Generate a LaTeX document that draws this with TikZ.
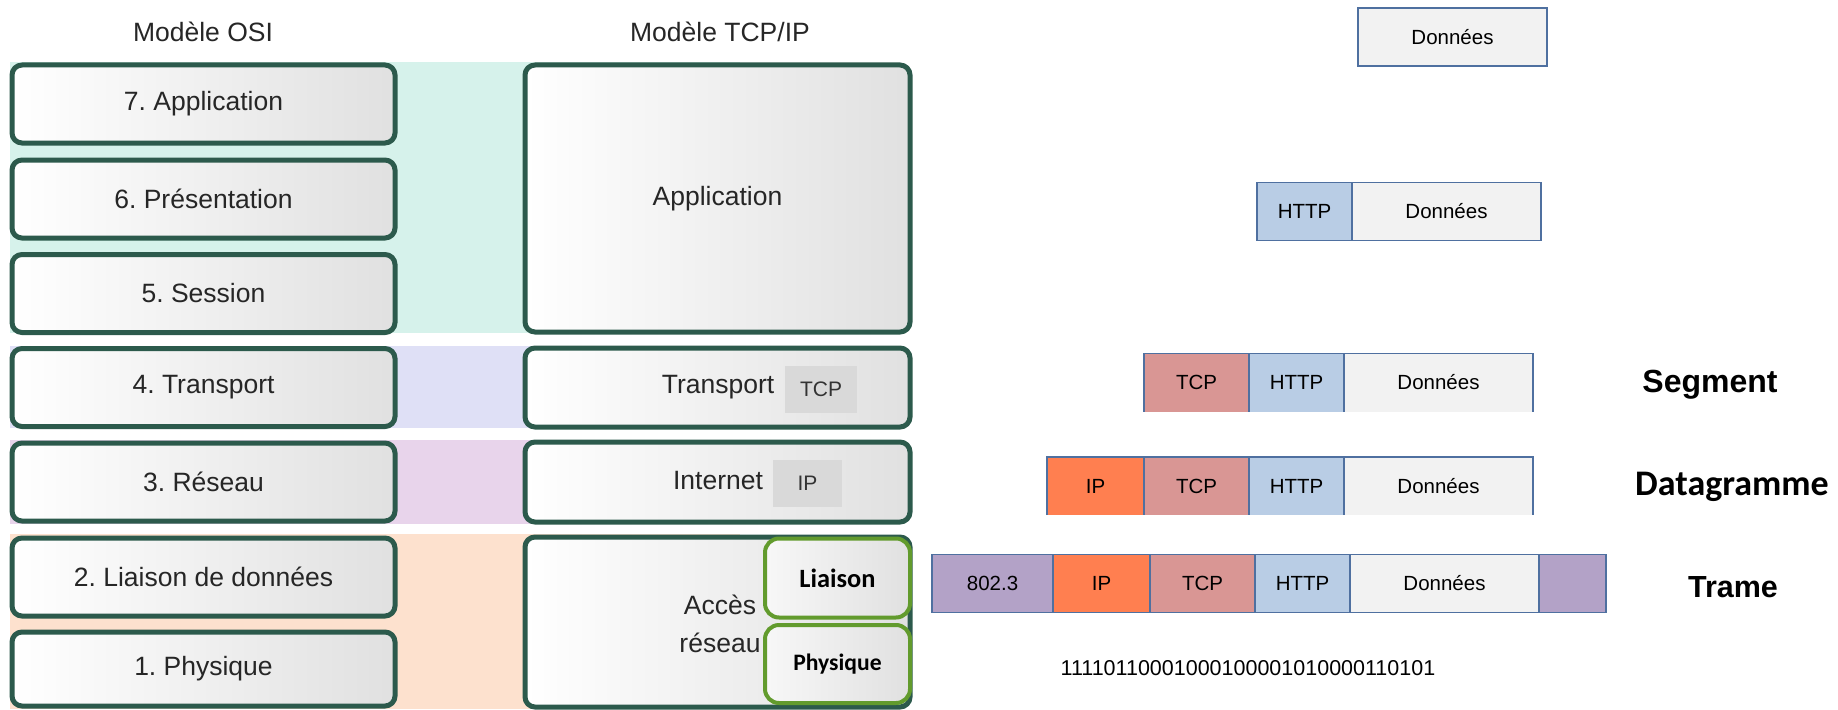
\documentclass[tikz,border=0pt]{standalone}
\usepackage{fontspec}
\setmainfont{Liberation Sans}
\newfontfamily\calibri{Carlito}
\usetikzlibrary{positioning}
\definecolor{layergreen}{RGB}{44,90,76}
\definecolor{subgreen}{RGB}{98,155,45}
\definecolor{tealband}{RGB}{214,242,235}
\definecolor{transband}{RGB}{223,224,246}
\definecolor{netband}{RGB}{232,212,235}
\definecolor{accband}{RGB}{253,225,206}
\definecolor{taggray}{RGB}{217,217,217}
\definecolor{cellblue}{RGB}{79,112,160}
\definecolor{datagray}{RGB}{242,242,242}
\definecolor{httpblue}{RGB}{185,205,229}
\definecolor{tcprose}{RGB}{217,150,148}
\definecolor{ipcoral}{RGB}{255,127,80}
\definecolor{ethpurple}{RGB}{179,162,199}

\tikzset{
    caption/.style={font=\fontsize{26.5}{30}\selectfont, text=black!85},
    layer/.style={caption, draw=layergreen, line width=5pt, rounded corners=10pt,
        left color=white, right color=black!12, minimum width=383pt,
        minimum height=78pt, inner sep=0pt, outer sep=0pt},
    tag/.style={fill=taggray, minimum width=72pt, minimum height=47pt,
        font=\fontsize{21}{24}\selectfont, text=black!80},
    sublayer/.style={draw=subgreen, line width=4pt, rounded corners=14pt,
        left color=black!3, right color=black!12, minimum width=145pt,
        minimum height=79pt},
    cell/.style={draw=cellblue, line width=1.6pt, minimum height=58pt,
        inner sep=0pt, outer sep=0pt, font=\fontsize{20.5}{24}\selectfont},
    open/.style={draw=none},
    rowline/.style={cellblue, line width=1.6pt},
    datacell/.style={cell, fill=datagray, minimum width=189pt},
    httpcell/.style={cell, fill=httpblue, minimum width=95pt},
    tcpcell/.style={cell, fill=tcprose, minimum width=105pt},
    ipcell/.style={cell, fill=ipcoral, minimum width=97pt},
    ethcell/.style={cell, fill=ethpurple, minimum width=121pt},
    fcscell/.style={cell, fill=ethpurple, minimum width=67pt},
    unitname/.style={font=\fontsize{32}{36}\selectfont\bfseries}
}

\begin{document}
\frenchspacing
\begin{tikzpicture}[x=1pt, y=-1pt]
    \useasboundingbox (0,0) rectangle (1838,709);

    % coloured bands behind the layers
    \fill[tealband] (10,62) rectangle (740,333);
    \fill[transband] (10,346) rectangle (740,428);
    \fill[netband] (10,440) rectangle (740,524);
    \fill[accband] (10,534) rectangle (740,709);

    % OSI model
    \node[caption] (osi) at (203,32) {Modèle OSI};
    \node[layer] (l7) at (203.5,104) {7. Application};
    \node[layer] (l6) at (203.5,199) {6. Présentation};
    \node[layer] (l5) at (203.5,293.5) {5. Session};
    \node[layer] (l4) at (203.5,387.5) {4. Transport};
    \node[layer] (l3) at (203.5,482) {3. Réseau};
    \node[layer] (l2) at (203.5,577) {2. Liaison de données};
    \node[layer, minimum height=74pt] (l1) at (203.5,669) {1. Physique};

    % TCP/IP model
    \node[caption] (tcpip) at (720,32) {Modèle TCP/IP};
    \node[layer, minimum width=385pt, minimum height=267pt] (app) at (717.5,198.5) {Application};
    \node[layer, minimum width=385pt, minimum height=79pt] (trans) at (717.5,387.5) {};
    \node[caption] (transtxt) at (718,387.5) {Transport};
    \node[tag] (tcptag) at (821,389.5) {TCP};
    \node[layer, minimum width=385pt, minimum height=80pt] (inet) at (717.5,482) {};
    \node[caption] (inettxt) at (718,481) {Internet};
    \node[tag, minimum width=69pt] (iptag) at (807.5,483.5) {IP};
    \node[layer, minimum width=385pt, minimum height=170pt] (acc) at (717.5,622) {};
    \node[caption, align=center, font=\fontsize{26.5}{38}\selectfont] (acctxt) at (720,624) {Accès\\réseau};
    \node[sublayer, font=\calibri\bfseries\fontsize{26.4}{30}\selectfont] (liaison) at (837.5,578) {Liaison};
    \node[sublayer, minimum height=78pt, font=\calibri\bfseries\fontsize{23.6}{28}\selectfont] (phys) at (837.5,664) {Physique};

    % encapsulation
    \node[datacell, anchor=west] (d0) at (1358,37) {Données};

    \node[httpcell, anchor=west] (h1) at (1257,211.5) {HTTP};
    \node[datacell, right=0pt of h1] (d1) {Données};

    \node[tcpcell, open, anchor=west] (t2) at (1144,382.5) {TCP};
    \node[httpcell, open, right=0pt of t2] (h2) {HTTP};
    \node[datacell, open, right=0pt of h2] (d2) {Données};
    \draw[rowline] (t2.south west) |- (d2.north east) -- (d2.south east);
    \draw[rowline] (h2.north west) -- (h2.south west) (d2.north west) -- (d2.south west);

    \node[ipcell, open, anchor=west] (i3) at (1047,486) {IP};
    \node[tcpcell, open, right=0pt of i3] (t3) {TCP};
    \node[httpcell, open, right=0pt of t3] (h3) {HTTP};
    \node[datacell, open, right=0pt of h3] (d3) {Données};
    \draw[rowline] (i3.south west) |- (d3.north east) -- (d3.south east);
    \draw[rowline] (t3.north west) -- (t3.south west) (h3.north west) -- (h3.south west)
        (d3.north west) -- (d3.south west);

    \node[ethcell, anchor=west] (e4) at (932,583.5) {802.3};
    \node[ipcell, right=0pt of e4] (i4) {IP};
    \node[tcpcell, right=0pt of i4] (t4) {TCP};
    \node[httpcell, right=0pt of t4] (h4) {HTTP};
    \node[datacell, right=0pt of h4] (d4) {Données};
    \node[fcscell, right=0pt of d4] (f4) {};

    \node[font=\fontsize{21.5}{24}\selectfont] (bits) at (1248,668) {11110110001000100001010000110101};

    % PDU names
    \node[unitname] (seg) at (1710,385) {Segment};
    \node[unitname, font=\calibri\bfseries\fontsize{36}{40}\selectfont] (dgram) at (1732,487) {Datagramme};
    \node[unitname, font=\fontsize{30.5}{34}\selectfont\bfseries] (trame) at (1733,587) {Trame};
\end{tikzpicture}
\end{document}
